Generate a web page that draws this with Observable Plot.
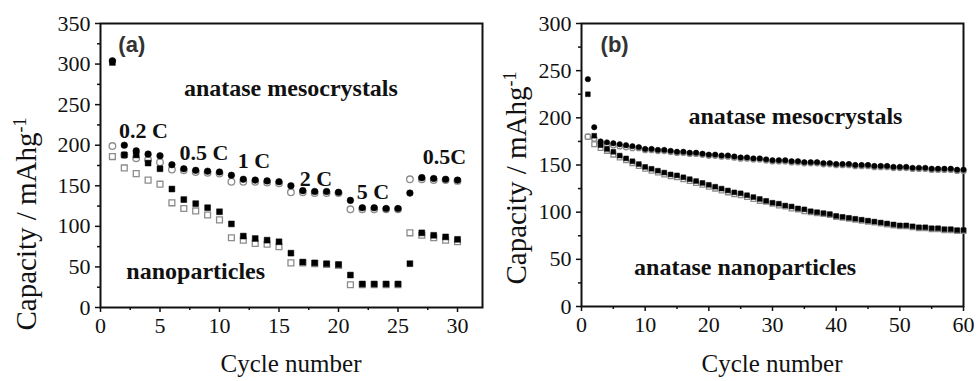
<!DOCTYPE html>
<html>
<head>
<meta charset="utf-8">
<script src="https://cdn.jsdelivr.net/npm/d3@7"></script>
<script src="https://cdn.jsdelivr.net/npm/@observablehq/plot@0.6"></script>
<style>
  body { margin: 0; background: #fff; }
  #fig { position: relative; width: 977px; height: 381px; overflow: hidden; background: #fff; }
  #fig svg { position: absolute; top: 0; }
</style>
</head>
<body>
<div id="fig"></div>
<script>
// ---- (a) rate capability: cycles 1-30 ----
const cyclesA = [1,2,3,4,5,6,7,8,9,10,11,12,13,14,15,16,17,18,19,20,21,22,23,24,25,26,27,28,29,30];
const mesoFilledA = [304,200,193,189,187,176,171,169,168,167,163,158,157,156,155,150,144,143,143,142,132,123,123,122,122,141,160,159,158,157];
const mesoOpenA   = [199,188,184,182,179,170,169,167,166,165,155,155,155,154,153,142,142,141,141,141,121,121,121,121,121,158,158,157,157,156];
const nanoFilledA = [302,188,188,178,171,146,133,128,123,118,103,88,85,83,81,67,56,55,54,53,40,29,29,29,29,54,92,89,87,84];
const nanoOpenA   = [186,172,165,157,152,129,122,119,114,108,86,83,79,78,75,55,55,54,53,52,28,28,28,28,28,92,89,86,83,81];
const rateLabels  = ["0.2 C","0.5 C","1 C","2 C","5 C","0.5C"];
const rateLabelX  = [3.6, 8.7, 12.9, 18.1, 22.9, 28.9];
const rateLabelY  = [218, 191, 180, 159, 142, 185];

// ---- (b) cycling at 0.5 C: cycles 1-60 ----
const cyclesB = [1,2,3,4,5,6,7,8,9,10,11,12,13,14,15,16,17,18,19,20,21,22,23,24,25,26,27,28,29,30,
                 31,32,33,34,35,36,37,38,39,40,41,42,43,44,45,46,47,48,49,50,51,52,53,54,55,56,57,58,59,60];
const mesoFilledB = [241,190,175,174,173,172,171,170,169,167,167,166,166,165,164,164,163,163,162,161,
                     161,160,160,159,158,158,157,157,156,155,155,155,154,154,153,153,153,152,152,151,
                     151,151,150,150,150,149,149,149,148,148,148,147,147,147,146,146,146,146,145,145];
const mesoOpenB   = [180,178,173,172,171,170,169,168,168,166,166,165,165,164,163,163,162,162,161,160,
                     160,159,159,158,157,157,156,156,155,154,154,154,153,153,152,152,152,151,151,150,
                     150,150,149,149,149,148,148,148,147,147,147,146,146,146,145,145,145,145,144,144];
const nanoFilledB = [225,181,171,167,164,160,157,154,151,148,146,144,142,140,139,137,135,133,131,129,
                     127,125,123,121,120,118,116,114,112,110,109,107,106,104,103,101,100,99,98,96,
                     95,94,93,92,91,90,89,88,87,86,86,85,84,84,83,83,82,82,81,81];
const nanoOpenB   = [180,172,168,165,161,158,155,152,149,146,144,142,140,138,137,135,133,131,129,127,
                     125,123,121,119,118,116,114,112,111,109,107,106,104,103,101,100,99,98,97,95,
                     94,93,92,91,90,89,88,87,86,85,85,84,83,83,82,82,81,81,80,80];

const serif = "'Liberation Serif', 'Times New Roman', serif";
const sans = "'Liberation Sans', Arial, sans-serif";

const rows = (xs, ys) => xs.map((c, i) => ({cycle: c, cap: ys[i]}));

function axes(xMajor, xMinor, yMajor, yMinor) {
  return [
    Plot.axisX({ticks: xMinor, tickSize: 3, tickFormat: () => "", strokeWidth: 1.5, label: null}),
    Plot.axisX({ticks: xMajor, tickSize: 5, tickPadding: 5, tickFormat: d3.format("d"),
                fontSize: 22, strokeWidth: 1.5, label: null}),
    Plot.axisY({ticks: yMinor, tickSize: 3, tickFormat: () => "", strokeWidth: 1.5, label: null}),
    Plot.axisY({ticks: yMajor, tickSize: 5, tickPadding: 5, tickFormat: d3.format("d"),
                fontSize: 22, strokeWidth: 1.5, label: null}),
    Plot.frame({stroke: "#111", strokeWidth: 2})
  ];
}

function seriesDots(open1, open2, filled1, filled2, r) {
  return [
    Plot.dot(open1, {x: "cycle", y: "cap", symbol: "circle", r, fill: "white", stroke: "#8c8c8c", strokeWidth: 1.3}),
    Plot.dot(open2, {x: "cycle", y: "cap", symbol: "square", r, fill: "white", stroke: "#8c8c8c", strokeWidth: 1.3}),
    Plot.dot(filled2, {x: "cycle", y: "cap", symbol: "square", r, fill: "#000", stroke: "#000", strokeWidth: 0.5}),
    Plot.dot(filled1, {x: "cycle", y: "cap", symbol: "circle", r, fill: "#000", stroke: "#000", strokeWidth: 0.5})
  ];
}

function yTitle(svg, x, y) {
  const t = d3.select(svg).append("text")
    .attr("transform", `translate(${x},${y}) rotate(-90)`)
    .attr("text-anchor", "middle")
    .attr("font-family", serif)
    .attr("font-size", 29)
    .attr("fill", "#111");
  t.append("tspan").text("Capacity / mAhg");
  t.append("tspan").attr("dy", "-0.55em").attr("font-size", 18).text("-1");
}

function xTitle(svg, x, y) {
  d3.select(svg).append("text")
    .attr("x", x).attr("y", y)
    .attr("text-anchor", "middle")
    .attr("font-family", serif)
    .attr("font-size", 25)
    .attr("fill", "#111")
    .text("Cycle number");
}

const labelStyle = {fontWeight: "bold", fontFamily: serif, fill: "#111"};

// Panel (a)
const plotA = Plot.plot({
  width: 490, height: 381,
  marginLeft: 100, marginRight: 8, marginTop: 23, marginBottom: 74,
  style: {fontFamily: serif, color: "#111", background: "transparent", overflow: "visible"},
  x: {domain: [0, 32.1], label: null},
  y: {domain: [0, 350], label: null},
  marks: [
    ...axes([0,5,10,15,20,25,30], [2.5,7.5,12.5,17.5,22.5,27.5],
            [0,50,100,150,200,250,300,350], [25,75,125,175,225,275,325]),
    ...seriesDots(rows(cyclesA, mesoOpenA), rows(cyclesA, nanoOpenA),
                  rows(cyclesA, mesoFilledA), rows(cyclesA, nanoFilledA), 3.3),
    Plot.text(rateLabels, {x: (d, i) => rateLabelX[i], y: (d, i) => rateLabelY[i], text: d => d,
                           fontSize: 22, ...labelStyle}),
    Plot.text(["anatase mesocrystals"], {x: 16, y: 270, text: d => d, fontSize: 24, ...labelStyle}),
    Plot.text(["nanoparticles"], {x: 8, y: 44, text: d => d, fontSize: 24, ...labelStyle}),
    Plot.text(["(a)"], {x: 1.5, y: 323, text: d => d, textAnchor: "start", fontSize: 22, fontWeight: "bold", fontFamily: sans, fill: "#333"})
  ]
});
plotA.style.left = "0px";
yTitle(plotA, 36, 224);
xTitle(plotA, 291, 372);

// Panel (b)
const plotB = Plot.plot({
  width: 487, height: 381,
  marginLeft: 91, marginRight: 14, marginTop: 23, marginBottom: 75,
  style: {fontFamily: serif, color: "#111", background: "transparent", overflow: "visible"},
  x: {domain: [0, 60], label: null},
  y: {domain: [0, 300], label: null},
  marks: [
    ...axes([0,10,20,30,40,50,60], [5,15,25,35,45,55],
            [0,50,100,150,200,250,300], [25,75,125,175,225,275]),
    ...seriesDots(rows(cyclesB, mesoOpenB), rows(cyclesB, nanoOpenB),
                  rows(cyclesB, mesoFilledB), rows(cyclesB, nanoFilledB), 2.7),
    Plot.text(["anatase mesocrystals"], {x: 33.6, y: 202, text: d => d, fontSize: 24, ...labelStyle}),
    Plot.text(["anatase nanoparticles"], {x: 25.7, y: 42, text: d => d, fontSize: 24, ...labelStyle}),
    Plot.text(["(b)"], {x: 3, y: 277, text: d => d, textAnchor: "start", fontSize: 22, fontWeight: "bold", fontFamily: sans, fill: "#333"})
  ]
});
plotB.style.left = "490px";
yTitle(plotB, 36, 178);
xTitle(plotB, 282, 372);

document.getElementById("fig").append(plotA, plotB);
</script>
</body>
</html>
